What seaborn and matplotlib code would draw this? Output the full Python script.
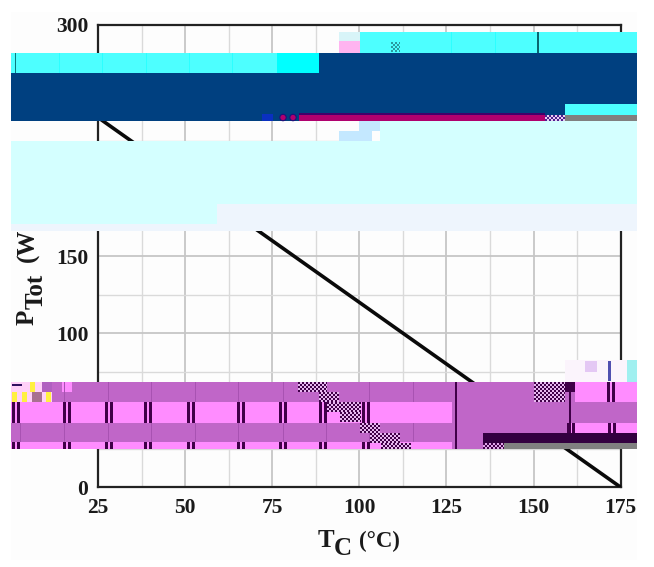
import matplotlib
matplotlib.use("Agg")
import matplotlib.pyplot as plt
from matplotlib.patches import Rectangle, Circle
from matplotlib.ticker import MultipleLocator
import pandas as pd
import seaborn as sns

# ---- data ----
case_temp_c = [25, 175]
power_tot_w = [240, 0]
x_ticks = [25, 50, 75, 100, 125, 150, 175]
y_ticks = [0, 50, 100, 150, 200, 250, 300]

W, H = 654, 567
sns.set_theme(style="white")
plt.rcParams["font.family"] = ["Liberation Serif", "DejaVu Serif"]
plt.rcParams["font.weight"] = "bold"

fig = plt.figure(figsize=(W / 100, H / 100), dpi=100, facecolor="white")
ax = fig.add_axes([98 / W, 1 - 487.2 / H, (620.6 - 98) / W, (487.2 - 25) / H], facecolor="#FDFDFD")

df = pd.DataFrame({"Tc": case_temp_c, "Ptot": power_tot_w})
sns.lineplot(data=df, x="Tc", y="Ptot", ax=ax, color="#0A0A0A", linewidth=2.6, zorder=4)

ax.set_xlim(25, 175)
ax.set_ylim(0, 300)
ax.set_xticks(x_ticks)
ax.set_yticks(y_ticks)
ax.xaxis.set_minor_locator(MultipleLocator(12.5))
ax.yaxis.set_minor_locator(MultipleLocator(25))
ax.grid(True, which="major", color="#C6C6C6", linewidth=1.3)
ax.grid(True, which="minor", color="#DADADA", linewidth=1.0)
ax.set_axisbelow(True)
ax.tick_params(which="both", length=0)
ax.tick_params(axis="x", pad=8, labelsize=15.5, colors="#1A1A1A")
ax.tick_params(axis="y", pad=7, labelsize=15.5, colors="#1A1A1A")
for lab in ax.get_xticklabels() + ax.get_yticklabels():
    lab.set_fontweight("bold")
for sp in ax.spines.values():
    sp.set_visible(True)
    sp.set_color("#222222")
    sp.set_linewidth(1.6)
ax.set_xlabel("")
ax.set_ylabel("")


def htxt(x, y, s, size):
    fig.text(x / W, 1 - y / H, s, fontsize=size, fontweight="bold", ha="left", va="baseline",
             color="#1A1A1A", zorder=3)


def vtxt(x, y, s, size):
    fig.text(x / W, 1 - y / H, s, fontsize=size, fontweight="bold", rotation=90, color="#1A1A1A",
             ha="left", va="baseline", rotation_mode="anchor", zorder=3)


# axis titles (built from pieces: the subscript is nearly full size)
htxt(318, 547, "T", 18)
htxt(334, 555, "C", 18)
htxt(359, 547, "(°C)", 16.5)
vtxt(34, 325, "P", 18)
vtxt(43, 309, "Tot", 18)
vtxt(34, 262, "(W)", 18)


# ---- corrupted-image bands lying over the chart, in pixel coordinates ----
def rect(x0, y0, x1, y1, c, z=5):
    fig.add_artist(Rectangle((x0 / W, 1 - y1 / H), (x1 - x0) / W, (y1 - y0) / H,
                             transform=fig.transFigure, facecolor=c, edgecolor="none",
                             linewidth=0, zorder=z))


def checker(x0, y0, x1, y1, c, step=2, z=6):
    for i, xx in enumerate(range(x0, x1, step)):
        for j, yy in enumerate(range(y0, y1, step)):
            if (i + j) % 2 == 0:
                rect(xx, yy, min(xx + step, x1), min(yy + step, y1), c, z)


rect(11, 12, 637, 560, "#FDFDFD", z=-1)

CY, CY2, NAVY, PALE, PALE2 = "#4DFFFF", "#00FFFF", "#004080", "#D4FFFF", "#EEF5FD"
PUR, PINK, DARK, MAG, GR = "#C066C8", "#FF8CFF", "#400048", "#B0006E", "#808080"

# top bands
rect(360, 32, 637, 52.7, CY)
rect(339, 32, 360, 41, "#D8F4F8")
rect(339, 41, 360, 52.7, "#FFB4F0")
rect(11, 52.7, 319, 73, CY)
rect(277, 52.7, 319, 73, CY2)
rect(319, 52.7, 637, 73, NAVY)
rect(11, 73, 637, 121, NAVY)
for xv in (59, 102, 146, 189, 232, 451, 495):
    rect(xv, 52.7 if xv < 300 else 32, xv + 1, 73 if xv < 300 else 52.7, "#2CFFFF", z=6)
rect(15, 52.7, 16, 73, "#0A7A80", z=6)
rect(537, 32, 539, 52.7, "#0A6670", z=6)
checker(391, 42, 400, 52, "#2A9AA0", step=2)
rect(262, 114, 273, 121, "#0A30C0", z=6)
for cx in (283, 293):
    fig.add_artist(Circle((cx, H - 117.5), 3.2, transform=None, facecolor=MAG,
                          edgecolor="#20107A", linewidth=0.8, zorder=6))
rect(299, 114, 545, 121, MAG, z=6)
rect(299, 113, 545, 115, "#40006A", z=6)
rect(545, 115, 565, 121, "#E8D0F0", z=6)
checker(545, 115, 565, 121, "#502090", step=2, z=7)
rect(565, 104, 637, 115, CY, z=6)
rect(565, 115, 637, 121, GR, z=6)

# pale bands
rect(11, 141, 637, 204, PALE)
rect(380, 121, 637, 141, PALE)
rect(339, 121, 380, 141, "#FDFDFD")
rect(339, 131, 372, 141, "#C4E8FF")
rect(359, 121, 380, 131, "#C4E8FF")
rect(11, 204, 217, 224, PALE)
rect(217, 204, 637, 231, PALE2)
rect(11, 224, 217, 231, PALE2)

# bottom bands
rect(11, 382, 637, 449.3, PUR)
rect(11, 402, 452, 423, PINK)
rect(11, 442, 452, 449.3, PINK)
rect(62, 382, 72, 392, PINK)
rect(575, 382, 637, 402, PINK)
rect(567, 423, 637, 433, PINK)
rect(483, 433, 637, 443, "#330040", z=7)
rect(483, 443, 637, 449.3, GR, z=6)
rect(483, 443, 504, 449, "#E0A8E8", z=6)
checker(483, 443, 504, 449, DARK, step=2, z=7)

for sx in (12, 63, 105, 144, 187, 237, 279, 319, 362):
    for yy0, yy1 in ((402, 423), (442, 449.3)):
        rect(sx, yy0, sx + 3, yy1, DARK, z=6)
        rect(sx + 5, yy0, sx + 8, yy1, DARK, z=6)
for sx in (20, 64, 108, 151, 195, 238, 283, 326, 369, 413):
    rect(sx, 382, sx + 1, 402, "#A852B2", z=6)
    rect(sx, 423, sx + 1, 442, "#A852B2", z=6)
rect(455, 382, 457, 449.3, "#400048", z=6)
rect(569, 392, 571, 433, "#400048", z=6)
for sx in (567, 608):
    rect(sx, 423, sx + 3, 433, DARK, z=6)
    rect(sx + 5, 423, sx + 8, 433, DARK, z=6)
rect(607, 382, 610, 402, DARK, z=6)
rect(612, 382, 615, 402, DARK, z=6)
rect(565, 382, 575, 392, DARK, z=6)

# checker staircase
for box in ((298, 382, 327, 392), (319, 392, 339, 402), (327, 402, 361, 412), (340, 412, 361, 422),
            (360, 423, 380, 433), (370, 433, 400, 443), (381, 443, 411, 449), (534, 382, 565, 402)):
    rect(box[0], box[1], box[2], box[3], "#E8B8F0", z=6)
    checker(*box, DARK, step=2, z=7)

# small blocks
rect(11, 382, 52, 402, "#FFD0F8", z=6)
for bx, by in ((12, 392), (22, 392), (30, 382), (46, 392)):
    rect(bx, by, bx + 5, by + 10, "#FFF040", z=7)
rect(42, 382, 52, 392, "#B060C0", z=7)
rect(32, 392, 42, 402, "#A87090", z=7)
rect(12, 384, 22, 386, "#301060", z=7)
rect(565, 360, 637, 382, "#FBF4FC")
rect(585, 361, 597, 372, "#E4C8F4")
rect(608, 361, 611, 381, "#5050B0")
rect(627, 360, 637, 382, "#A0F0F0")

fig.savefig("out.png", dpi=100, facecolor="white")
